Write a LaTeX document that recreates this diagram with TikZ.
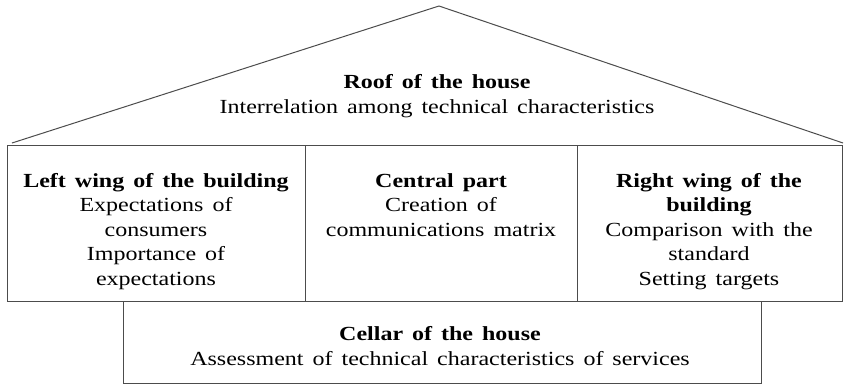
\documentclass[tikz,border=0pt]{standalone}
\usepackage{fontspec}
\setmainfont{Liberation Serif}[FakeStretch=1.2,WordSpace=1.5]
\begin{document}
\begin{tikzpicture}[x=1pt,y=-1pt,
  wall/.style={draw=black!70,line width=1pt},
  label/.style={align=center,font=\fontsize{20}{24.5}\selectfont,inner sep=0pt,anchor=base}]
\useasboundingbox (0,0) rectangle (844,386);
% roof
\coordinate (apex) at (439,6);
\coordinate (eaveL) at (12,143);
\coordinate (eaveR) at (843,143);
\draw[wall,line join=round] (eaveL) -- (apex) -- (eaveR);
% main floor with three parts
\draw[wall] (7,145) rectangle (842,301);
\draw[wall] (305,145) -- (305,301);
\draw[wall] (577,145) -- (577,301);
% cellar
\draw[wall] (123,301) -- (123,383) -- (761,383) -- (761,301);
% texts (anchored at the baseline of the last line)
\node[label] (roof) at (437,113) {\textbf{Roof of the house}\\Interrelation among technical characteristics};
\node[label] (left) at (156,285) {\textbf{Left wing of the building}\\Expectations of\\consumers\\Importance of\\expectations};
\node[label] (centre) at (441,236) {\textbf{Central part}\\Creation of\\communications matrix};
\node[label] (right) at (709,285) {\textbf{Right wing of the}\\\textbf{building}\\Comparison with the\\standard\\Setting targets};
\node[label] (cellar) at (440,365) {\textbf{Cellar of the house}\\Assessment of technical characteristics of services};
\end{tikzpicture}
\end{document}
